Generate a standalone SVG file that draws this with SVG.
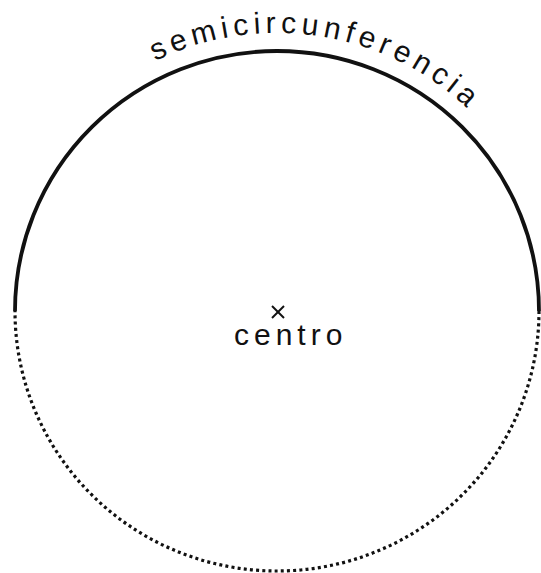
<svg xmlns="http://www.w3.org/2000/svg" width="541" height="573" viewBox="0 0 541 573">
  <style>
    .solid { fill: none; stroke: #111; stroke-width: 3.8; }
    .dotted { fill: none; stroke: #111; stroke-width: 3.2; stroke-dasharray: 3 3.2; }
    .lbl { font-family: "Liberation Sans", Arial, sans-serif; font-size: 30px; fill: #111; letter-spacing: 5px; }
    .mark { stroke: #111; stroke-width: 2; }
  </style>
  <defs>
    <path id="arcText" d="M 155.1 61.1 A 278 278 0 0 1 517.8 172"/>
  </defs>
  <rect width="541" height="573" fill="#fff"/>
  <g id="connectors">
    <path class="solid" d="M 15 311 A 262 260 0 0 1 539 311"/>
    <path class="dotted" d="M 539 311 A 262 260 0 0 1 15 311"/>
  </g>
  <g id="semicircunferencia">
    <text class="lbl"><textPath href="#arcText">semicircunferencia</textPath></text>
  </g>
  <g id="centro">
    <line class="mark" x1="272" y1="306" x2="284" y2="318"/>
    <line class="mark" x1="284" y1="306" x2="272" y2="318"/>
    <text class="lbl" x="234" y="345">centro</text>
  </g>
</svg>
